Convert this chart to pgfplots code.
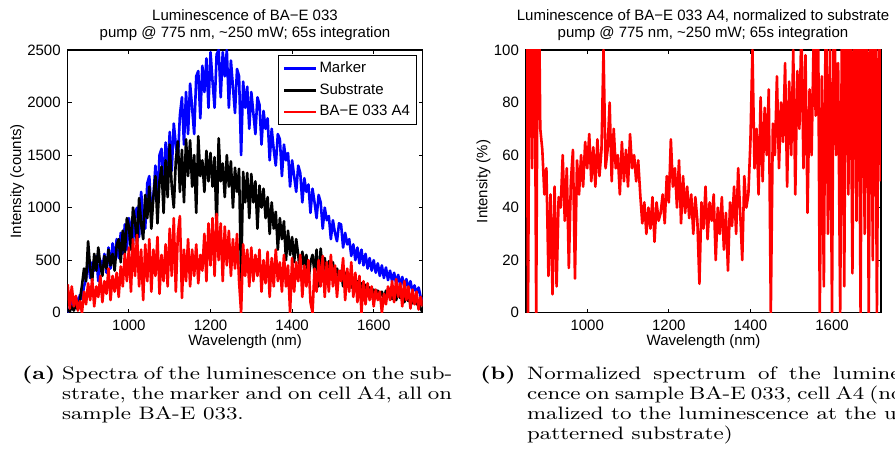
\documentclass[border=0pt]{standalone}
\usepackage{fontspec}
\usepackage{graphicx}
\usepackage{pgfplots}
\usepackage{pgfplotstable}
\pgfplotsset{compat=1.18}
\newfontfamily\plotfont{Liberation Sans}
\newcommand\pf{\plotfont\fontsize{7.5}{9}\selectfont}
\newcommand\cf{\fontsize{9}{9.85}\selectfont}
\newcommand\jl[1]{\makebox[\linewidth][s]{#1}}

\pgfplotstableread{
x m s a n
850 0 30 270 150
855 40 10 40 0
860 120 60 250 150
865 60 20 60 55
870 150 80 160 150
875 90 30 20 0
880 170 120 110 150
885 130 260 0 70
890 250 420 200 62
895 320 300 80 45
900 520 680 280 55
905 330 420 120 14
910 480 300 320 45
915 400 560 60 7
920 540 400 250 48
925 300 620 150 10
930 500 450 350 44
935 420 350 100 40
940 560 540 300 60
945 380 420 180 35
950 620 600 420 55
955 420 450 120 17
960 660 560 350 50
965 480 400 200 62
970 700 640 380 13
975 520 700 150 58
980 760 480 440 45
985 560 780 250 60
990 840 560 560 48
995 600 900 300 65
1000 900 820 620 55
1005 780 600 200 68
1010 650 1000 700 50
1015 950 880 350 63
1020 1000 650 740 48
1025 720 1090 250 66
1030 1150 850 600 52
1035 900 700 120 62
1040 800 1120 650 100
1045 1230 900 300 55
1050 1300 1200 700 62
1055 950 800 200 80
1060 1100 1100 600 50
1065 1400 1300 350 70
1070 1050 850 720 55
1075 1500 1250 180 60
1080 1560 1390 550 45
1085 1150 950 300 65
1090 1620 1450 650 50
1095 1300 1100 250 62
1100 1720 1600 800 48
1105 1350 1200 350 68
1110 1800 1000 900 55
1115 1600 1450 200 60
1120 1450 1630 750 50
1125 1880 1150 920 58
1130 2050 1550 140 45
1135 1600 1050 600 34
1140 2100 1650 300 42
1145 1700 1300 700 30
1150 2180 1640 250 40
1155 1950 1200 600 32
1160 1700 1500 350 44
1165 2250 950 650 27
1170 2300 1680 280 42
1175 1850 1300 550 35
1180 2350 1450 400 38
1185 2100 1150 750 45
1190 2420 1540 300 34
1195 1950 1250 850 52
1200 2480 1520 450 42
1205 2200 1200 900 66
1210 1950 1480 350 48
1215 2460 780 940 55
1220 2500 1660 500 40
1225 2050 1250 850 58
1230 2480 1420 300 34
1235 2250 1100 820 52
1240 2500 1500 450 38
1245 1950 1200 780 48
1250 2400 1440 350 36
1255 2150 1000 700 45
1260 1900 1380 420 30
1265 2320 1150 750 44
1270 2250 1370 300 35
1275 1500 300 0 11
1280 2200 1340 650 42
1285 1950 1050 350 32
1290 2150 1330 600 48
1295 1750 900 250 28
1300 2100 1320 620 42
1305 1900 1050 300 35
1310 1700 1250 550 45
1315 2050 800 350 20
1320 1980 1210 600 40
1325 1600 1000 200 30
1330 1920 1180 500 44
1335 1750 900 280 24
1340 1850 1100 580 38
1345 1450 750 150 16
1350 1750 1050 520 42
1355 1550 800 250 33
1360 1400 960 600 48
1365 1700 600 300 30
1370 1650 900 480 55
1375 1300 700 200 38
1380 1600 870 550 20
1385 1450 500 250 52
1390 1520 780 450 40
1395 1200 550 0 45
1400 1450 720 520 65
1405 1300 480 200 100
1410 1150 700 480 55
1415 1400 550 300 70
1420 1330 350 550 45
1425 1050 580 150 82
1430 1280 450 450 50
1435 1150 550 250 78
1440 1220 300 500 60
1445 950 480 100 85
1450 1180 550 0 0
1455 1050 380 420 72
1460 900 600 200 60
1465 1120 250 500 90
1470 1050 610 250 55
1475 800 400 540 80
1480 1000 520 150 65
1485 880 330 480 95
1490 920 490 200 48
1495 700 380 550 88
1500 880 480 250 60
1505 760 300 450 100
1510 680 420 150 45
1515 850 340 400 92
1520 840 400 300 70
1525 620 250 520 110
1530 760 380 120 55
1535 650 280 420 98
1540 700 360 200 38
1545 540 240 480 85
1550 650 330 150 60
1555 500 220 380 105
1560 620 300 100 75
1565 470 240 350 140
1570 600 280 0 0
1575 450 170 300 90
1580 560 265 80 10
1585 420 200 280 130
1590 520 240 120 30
1595 400 150 250 100
1600 500 220 60 0
1605 380 140 220 140
1610 470 210 120 60
1615 350 160 200 95
1620 450 200 0 0
1625 330 120 180 130
1630 430 210 80 10
1635 310 150 250 150
1640 400 230 120 45
1645 300 130 300 120
1650 380 220 100 15
1655 280 120 320 140
1660 360 200 150 35
1665 260 140 280 130
1670 340 180 60 0
1675 240 100 300 150
1680 320 170 120 30
1685 220 110 250 140
1690 300 150 40 0
1695 200 90 220 130
1700 260 140 80 20
1705 180 80 200 150
1710 240 100 30 0
1715 150 40 150 120
1720 120 0 60 50
}\spec

\pgfplotsset{
  myax/.style={
    scale only axis, width=177.5pt, height=131.35pt, anchor=south west,
    xmin=850, xmax=1720, xtick={1000,1200,1400,1600},
    tick label style={font=\pf}, label style={font=\pf},
    /pgf/number format/assume math mode=true,
    /pgf/number format/1000 sep={},
    scaled ticks=false,
    major tick length=2pt, tick style={line width=0.5pt, black},
    axis line style={line width=0.7pt, black},
    xlabel={Wavelength (nm)},
    xlabel style={at={(axis description cs:0.5,-0.1256)}, anchor=base},
    every axis plot/.append style={line width=1.3pt, line join=round},
  }
}

\begin{document}
\begin{tikzpicture}
\begin{axis}[myax, at={(33.85pt,73.65pt)},
  ymin=0, ymax=2500, ytick={0,500,1000,1500,2000,2500},
  ylabel={Intensity (counts)},
  ylabel style={at={(axis description cs:-0.1315,0.5)}, anchor=base, rotate=0},
  legend style={at={(0.9848,0.981)}, anchor=north east, font=\pf,
    draw=black, line width=0.6pt, inner xsep=2.25pt, inner ysep=2pt,
    row sep=1.7pt, nodes={inner sep=1.1pt}, cells={anchor=west}},
  legend image code/.code={\draw[#1, line width=1.3pt] (0pt,0pt) -- (15.85pt,0pt);},
]
\addplot[blue] table[x=x, y=m] {\spec};
\addplot[black] table[x=x, y=s] {\spec};
\addplot[red] table[x=x, y=a] {\spec};
\legend{Marker, Substrate, BA−E 033 A4}
\end{axis}

\begin{axis}[myax, at={(263pt,73.65pt)},
  ymin=0, ymax=100, ytick={0,20,40,60,80,100},
  ylabel={Intensity (\%)},
  ylabel style={at={(axis description cs:-0.1085,0.5)}, anchor=base, rotate=0},
]
\addplot[red] table[x=x, y=n] {\spec};
\end{axis}

\node[anchor=base, font=\pf, inner sep=0pt] at (122.5pt,219.65pt) {Luminescence of BA−E 033};
\node[anchor=base, font=\pf, inner sep=0pt] at (122.5pt,211.35pt) {pump @ 775 nm, \textasciitilde250 mW; 65s integration};
\node[anchor=base, font=\pf, inner sep=0pt] at (351.5pt,219.65pt) {Luminescence of BA−E 033 A4, normalized to substrate};
\node[anchor=base, font=\pf, inner sep=0pt] at (351.5pt,211.35pt) {pump @ 775 nm, \textasciitilde250 mW; 65s integration};

\node[anchor=base west, inner sep=0pt] at (10.85pt,40pt) {\scalebox{1.24}[1]{\cf\bfseries (a)}};
\node[anchor=base west, inner sep=0pt] at (30.85pt,40pt) {\scalebox{1.24}[1]{\parbox[t]{157.3pt}{\cf
  \jl{Spectra of the luminescence on the sub-}\\
  \jl{strate, the marker and on cell A4, all on}\\
  sample BA-E 033.}}};
\node[anchor=base west, inner sep=0pt] at (240pt,40pt) {\scalebox{1.24}[1]{\cf\bfseries (b)}};
\node[anchor=base west, inner sep=0pt] at (263.35pt,40pt) {\scalebox{1.24}[1]{\parbox[t]{157.3pt}{\cf
  \jl{Normalized spectrum of the lumines-}\\
  \jl{cence on sample BA-E 033, cell A4 (nor-}\\
  \jl{malized to the luminescence at the un-}\\
  patterned substrate)}}};

\pgfresetboundingbox
\useasboundingbox (0pt,0pt) rectangle (447.5pt,230pt);
\end{tikzpicture}
\end{document}
